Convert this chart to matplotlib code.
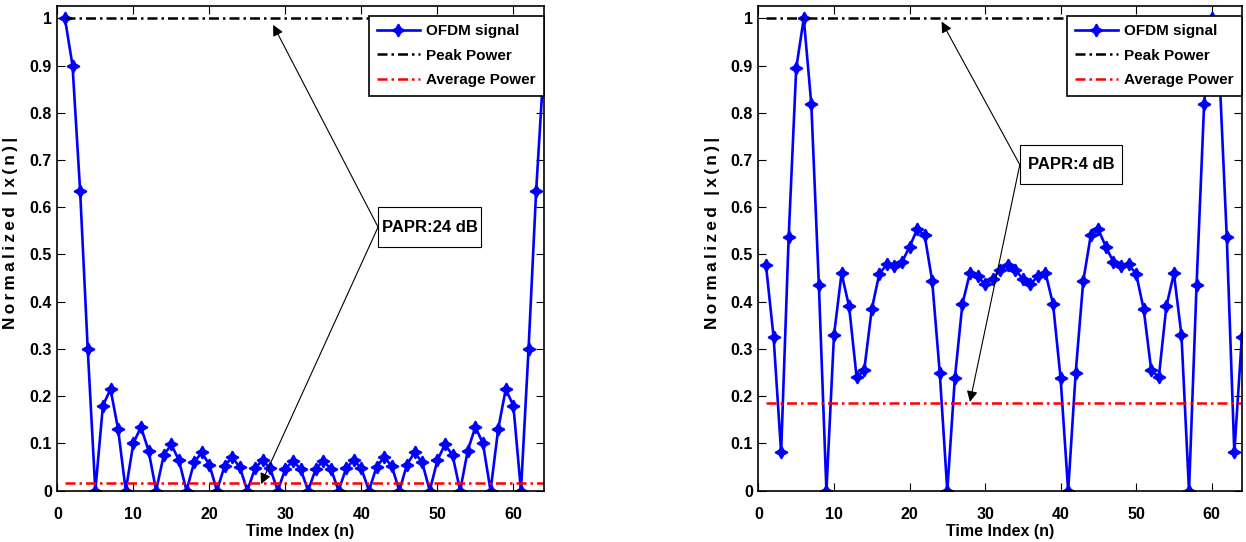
import numpy as np
import matplotlib.pyplot as plt
from matplotlib.patches import Rectangle

plt.rcParams['font.family'] = ['Liberation Sans', 'DejaVu Sans']
plt.rcParams['font.weight'] = 'bold'

n = np.arange(1, 65)

# left: |x(n)| for the high-PAPR OFDM frame
sig_left = [1.00, 0.90, 0.635, 0.30, 0.0, 0.18, 0.215, 0.13, 0.0, 0.10, 0.135, 0.085,
            0.0, 0.075, 0.098, 0.064, 0.0, 0.060, 0.081, 0.055, 0.0, 0.052, 0.071, 0.050,
            0.0, 0.047, 0.065, 0.047, 0.0, 0.046, 0.063, 0.046, 0.0, 0.046, 0.063, 0.046,
            0.0, 0.047, 0.065, 0.047, 0.0, 0.050, 0.071, 0.052, 0.0, 0.055, 0.081, 0.060,
            0.0, 0.064, 0.098, 0.075, 0.0, 0.085, 0.135, 0.10, 0.0, 0.13, 0.215, 0.18,
            0.0, 0.30, 0.635, 0.90]
avg_left = 0.016

# right: |x(n)| for the low-PAPR frame
sig_right = [0.477, 0.326, 0.081, 0.536, 0.894, 1.00, 0.818, 0.435, 0.0, 0.329, 0.460, 0.390,
             0.240, 0.255, 0.384, 0.459, 0.479, 0.475, 0.484, 0.516, 0.553, 0.541, 0.444, 0.250,
             0.0, 0.238, 0.395, 0.461, 0.454, 0.437, 0.449, 0.467, 0.477, 0.467, 0.449, 0.437,
             0.454, 0.461, 0.395, 0.238, 0.0, 0.250, 0.444, 0.541, 0.553, 0.516, 0.484, 0.475,
             0.479, 0.459, 0.384, 0.255, 0.240, 0.390, 0.460, 0.329, 0.0, 0.435, 0.818, 1.00,
             0.894, 0.536, 0.081, 0.326]
avg_right = 0.186

peak = 1.0
papr_labels = ['PAPR:24 dB', 'PAPR:4 dB']
ylab = '\u2009'.join('Normalized |x(n)|')  # spaced out like the original

fig = plt.figure(figsize=(12.46, 5.42), dpi=100)
ax1 = fig.add_axes([0.0460, 0.0947, 0.3904, 0.8948])
ax2 = fig.add_axes([0.6087, 0.0947, 0.3880, 0.8948])

# text centre, box (x0, y0, x1, y1), tip on peak line, tip on average line
annots = [
    ((49.0, 0.558), (42.2, 0.516, 55.8, 0.600), (28.4, 0.986), (26.8, 0.014)),
    ((41.4, 0.690), (34.6, 0.649, 48.1, 0.732), (24.25, 0.993), (28.0, 0.188)),
]

dd = (4, 1.6, 1, 1.6)
for ax, sig, avg, lab, (txt, box, tip1, tip2) in zip(
        [ax1, ax2], [sig_left, sig_right], [avg_left, avg_right], papr_labels, annots):
    ax.plot(n, sig, '-', color='blue', lw=1.9, marker=(4, 1, 0), ms=9, mew=1.2,
            label='OFDM signal')
    ax.plot(n, np.full(len(n), peak), '-.', color='black', lw=1.8, dashes=dd,
            label='Peak Power')
    ax.plot(n, np.full(len(n), avg), '-.', color='red', lw=1.8, dashes=dd,
            label='Average Power')
    ax.set_xlim(0, 64)
    ax.set_ylim(0, 1.0267)
    ax.set_xticks(np.arange(0, 61, 10))
    ax.set_yticks(np.arange(0, 1.01, 0.1))
    ax.set_yticklabels(['0'] + ['%.1f' % v for v in np.arange(0.1, 0.95, 0.1)] + ['1'])
    ax.tick_params(direction='in', top=True, right=True, labelsize=11.5, length=6, width=0.8)
    ax.tick_params(axis='x', pad=12)
    ax.tick_params(axis='y', pad=4)
    for s in ax.spines.values():
        s.set_linewidth(1.2)
    ax.set_xlabel('Time Index (n)', fontsize=11.5, fontweight='bold', labelpad=1)
    ax.set_ylabel(ylab, fontsize=12.3, fontweight='bold')
    ax.yaxis.set_label_coords(-0.08, 0.531)
    leg = ax.legend(loc='upper right', bbox_to_anchor=(1.0, 1 - 10 / 485), borderaxespad=0,
                    fontsize=11, handlelength=2.8, handletextpad=0.4, borderpad=0.55,
                    labelspacing=0.7, fancybox=False, framealpha=1, edgecolor='black')
    leg.get_frame().set_linewidth(1.2)
    ax.add_patch(Rectangle((box[0], box[1]), box[2] - box[0], box[3] - box[1],
                           fc='white', ec='black', lw=0.8, zorder=4))
    ax.text(txt[0], txt[1], lab, ha='center', va='center', fontsize=12, fontweight='bold',
            zorder=5)
    anchor = (box[0], txt[1])
    for tip in (tip1, tip2):
        ax.annotate('', xy=tip, xytext=anchor,
                    arrowprops=dict(arrowstyle='-|>', lw=0.8, color='black',
                                    mutation_scale=16, shrinkA=0, shrinkB=0))

fig.savefig('out.png', dpi=100)
